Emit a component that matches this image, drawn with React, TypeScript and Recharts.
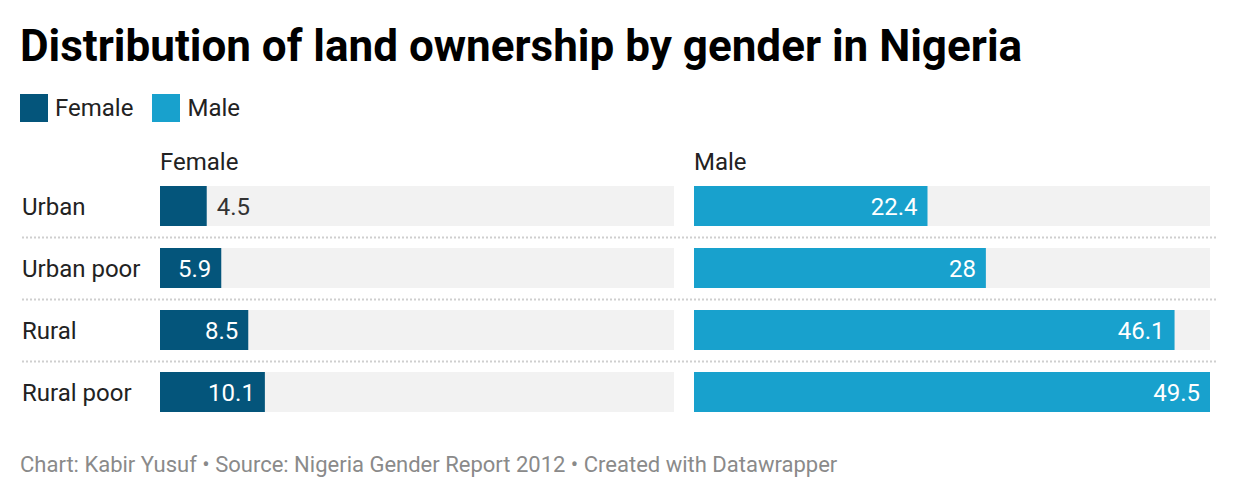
import { BarChart, Bar, XAxis, YAxis, LabelList } from "recharts";

const categories = ["Urban", "Urban poor", "Rural", "Rural poor"];
const femaleValues = [4.5, 5.9, 8.5, 10.1];
const maleValues = [22.4, 28, 46.1, 49.5];

const femaleData = categories.map((name, i) => ({ name, value: femaleValues[i] }));
const maleData = categories.map((name, i) => ({ name, value: maleValues[i] }));

const FEMALE = "#04557b";
const MALE = "#18a1cd";
const TRACK = "#f2f2f2";
const FONT = "Roboto, sans-serif";
const DOMAIN: [number, number] = [0, 49.5];

function ValueLabel(props: any) {
  const { x, y, width, height, value } = props;
  const outside = width < 55;
  return (
    <text
      x={outside ? x + width + 10 : x + width - 10}
      y={y + height / 2}
      dy="0.36em"
      textAnchor={outside ? "start" : "end"}
      fill={outside ? "#333" : "#fff"}
      fontSize={24}
      fontFamily={FONT}
    >
      {value}
    </text>
  );
}

function CategoryTick(props: any) {
  const { y, payload } = props;
  return (
    <text x={22} y={y} dy="0.36em" textAnchor="start" fill="#222" fontSize={24} fontFamily={FONT}>
      {payload.value}
    </text>
  );
}

export default function App() {
  return (
    <div style={{ position: "relative", width: 1240, height: 498, background: "#fff", fontFamily: FONT, color: "#222" }}>
      <style>{"body{margin:0}"}</style>
      <div style={{ position: "absolute", left: 20, top: 19, fontSize: 44, fontWeight: 700, color: "#000", lineHeight: "54px" }}>
        Distribution of land ownership by gender in Nigeria
      </div>
      <div style={{ position: "absolute", left: 20, top: 94, display: "flex", alignItems: "center", fontSize: 24, lineHeight: "28px" }}>
        <span style={{ width: 28, height: 28, background: FEMALE, marginRight: 7 }} />
        <span style={{ marginRight: 19 }}>Female</span>
        <span style={{ width: 28, height: 28, background: MALE, marginRight: 7 }} />
        <span>Male</span>
      </div>
      <div style={{ position: "absolute", left: 160, top: 148, fontSize: 24, lineHeight: "28px" }}>Female</div>
      <div style={{ position: "absolute", left: 694, top: 148, fontSize: 24, lineHeight: "28px" }}>Male</div>

      <svg style={{ position: "absolute", left: 0, top: 0 }} width={1240} height={498}>
        {[237, 299, 361].map((y) => (
          <line key={y} x1={22} x2={1218} y1={y + 0.5} y2={y + 0.5} stroke="#cfcfcf" strokeWidth={2} strokeDasharray="2 2" />
        ))}
      </svg>

      <div style={{ position: "absolute", left: 0, top: 175 }}>
        <BarChart width={674} height={248} data={femaleData} layout="vertical" margin={{ top: 0, right: 0, bottom: 0, left: 0 }} barSize={40}>
          <XAxis type="number" domain={DOMAIN} hide />
          <YAxis type="category" dataKey="name" width={160} axisLine={false} tickLine={false} tick={<CategoryTick />} />
          <Bar dataKey="value" fill={FEMALE} background={{ fill: TRACK }} isAnimationActive={false}>
            <LabelList dataKey="value" content={<ValueLabel />} />
          </Bar>
        </BarChart>
      </div>
      <div style={{ position: "absolute", left: 694, top: 175 }}>
        <BarChart width={516} height={248} data={maleData} layout="vertical" margin={{ top: 0, right: 0, bottom: 0, left: 0 }} barSize={40}>
          <XAxis type="number" domain={DOMAIN} hide />
          <YAxis type="category" dataKey="name" hide />
          <Bar dataKey="value" fill={MALE} background={{ fill: TRACK }} isAnimationActive={false}>
            <LabelList dataKey="value" content={<ValueLabel />} />
          </Bar>
        </BarChart>
      </div>

      <div style={{ position: "absolute", left: 20, top: 451, fontSize: 22, lineHeight: "28px", color: "#8a8a8a" }}>
        Chart: Kabir Yusuf • Source: Nigeria Gender Report 2012 • Created with Datawrapper
      </div>
    </div>
  );
}
